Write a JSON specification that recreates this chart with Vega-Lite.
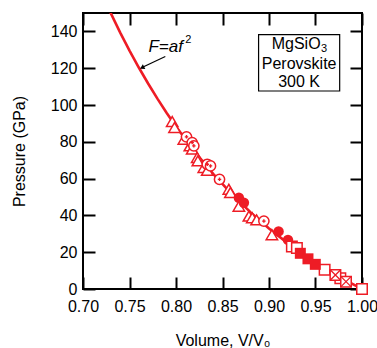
{
  "$schema": "https://vega.github.io/schema/vega-lite/v6.json",
  "width": 279,
  "height": 276,
  "autosize": "none",
  "padding": {"left": 83, "top": 13, "right": 15, "bottom": 59},
  "background": "white",
  "config": {
    "view": {"stroke": "black", "strokeWidth": 2},
    "font": "Liberation Sans"
  },
  "datasets": {
    "curve": [
      {"V": 0.729, "P": 150.8}, {"V": 0.74, "P": 139.35}, {"V": 0.75, "P": 129.59},
      {"V": 0.76, "P": 120.38}, {"V": 0.77, "P": 111.67}, {"V": 0.78, "P": 103.44},
      {"V": 0.79, "P": 95.65}, {"V": 0.80, "P": 88.29}, {"V": 0.82, "P": 74.73},
      {"V": 0.84, "P": 62.55}, {"V": 0.86, "P": 51.62}, {"V": 0.88, "P": 41.78},
      {"V": 0.90, "P": 32.92}, {"V": 0.92, "P": 24.93}, {"V": 0.94, "P": 17.72},
      {"V": 0.96, "P": 11.21}, {"V": 0.98, "P": 5.32}, {"V": 1.00, "P": 0}
    ],
    "pts": [
      {"V": 0.7959, "P": 91.0, "type": "tri"},
      {"V": 0.7984, "P": 87.8, "type": "tri"},
      {"V": 0.8084, "P": 81.4, "type": "tri"},
      {"V": 0.8149, "P": 77.8, "type": "tri"},
      {"V": 0.8174, "P": 76.0, "type": "tri"},
      {"V": 0.8228, "P": 71.5, "type": "tri"},
      {"V": 0.8235, "P": 69.6, "type": "tri"},
      {"V": 0.8299, "P": 66.0, "type": "tri"},
      {"V": 0.8336, "P": 64.5, "type": "tri"},
      {"V": 0.8568, "P": 54.2, "type": "tri"},
      {"V": 0.8585, "P": 52.4, "type": "tri"},
      {"V": 0.8676, "P": 45.0, "type": "tri"},
      {"V": 0.8784, "P": 39.6, "type": "tri"},
      {"V": 0.8820, "P": 38.7, "type": "tri"},
      {"V": 0.8867, "P": 37.6, "type": "tri"},
      {"V": 0.9031, "P": 29.5, "type": "tri"},
      {"V": 0.8113, "P": 82.7, "type": "circ"},
      {"V": 0.8174, "P": 79.6, "type": "circ"},
      {"V": 0.8192, "P": 77.8, "type": "circ"},
      {"V": 0.8336, "P": 67.8, "type": "circ"},
      {"V": 0.8371, "P": 66.9, "type": "circ"},
      {"V": 0.8468, "P": 59.6, "type": "circ"},
      {"V": 0.8945, "P": 36.9, "type": "circ"},
      {"V": 0.8676, "P": 49.6, "type": "fcirc"},
      {"V": 0.8730, "P": 46.9, "type": "fcirc"},
      {"V": 0.9103, "P": 31.3, "type": "fcirc"},
      {"V": 0.9204, "P": 26.7, "type": "fcirc"},
      {"V": 0.9246, "P": 23.1, "type": "osq"},
      {"V": 0.9300, "P": 22.3, "type": "osq"},
      {"V": 0.9598, "P": 10.4, "type": "osq"},
      {"V": 0.9767, "P": 5.8, "type": "osq"},
      {"V": 1.0, "P": 0.0, "type": "osq"},
      {"V": 0.9337, "P": 19.4, "type": "fsq"},
      {"V": 0.9419, "P": 16.4, "type": "fsq"},
      {"V": 0.9498, "P": 13.4, "type": "fsq"},
      {"V": 0.9714, "P": 7.6, "type": "xsq"},
      {"V": 0.9828, "P": 4.0, "type": "xsq"}
    ]
  },
  "layer": [
    {
      "data": {"name": "curve"},
      "mark": {"type": "line", "color": "#ee1c25", "strokeWidth": 2.6, "clip": true},
      "encoding": {
        "x": {"field": "V", "type": "quantitative",
          "scale": {"domain": [0.7, 1.0], "nice": false, "zero": false},
          "axis": {"orient": "bottom", "values": [0.7, 0.75, 0.8, 0.85, 0.9, 0.95, 1.0], "format": ".2f",
            "tickSize": -12, "tickWidth": 2, "tickColor": "black", "domain": false, "grid": false,
            "labelFont": "Liberation Sans", "labelFontSize": 16, "labelColor": "black", "labelPadding": 21,
            "labelFlush": false, "labelOverlap": false,
            "title": "Volume, V/V₀", "titleFont": "Liberation Sans", "titleFontSize": 16, "titleFontWeight": "normal",
            "titleColor": "black", "titlePadding": 18}},
        "y": {"field": "P", "type": "quantitative",
          "scale": {"domain": [0, 150], "nice": false},
          "axis": {"orient": "left", "values": [0, 20, 40, 60, 80, 100, 120, 140],
            "tickSize": -12, "tickWidth": 2, "tickColor": "black", "domain": false, "grid": false,
            "labelFont": "Liberation Sans", "labelFontSize": 16, "labelColor": "black", "labelPadding": 18,
            "labelFlush": false, "labelOverlap": false,
            "title": "Pressure (GPa)", "titleFont": "Liberation Sans", "titleFontSize": 16, "titleFontWeight": "normal",
            "titleColor": "black", "titlePadding": 23}}
      }
    },
    {
      "data": {"name": "curve"},
      "mark": {"type": "line", "opacity": 0, "clip": true},
      "encoding": {
        "x": {"field": "V", "type": "quantitative",
          "axis": {"orient": "top", "values": [0.7, 0.75, 0.8, 0.85, 0.9, 0.95, 1.0], "labels": false,
            "tickSize": -12, "tickWidth": 2, "tickColor": "black", "domain": false, "grid": false, "title": null}},
        "y": {"field": "P", "type": "quantitative",
          "axis": {"orient": "right", "values": [0, 20, 40, 60, 80, 100, 120, 140], "labels": false,
            "tickSize": -12, "tickWidth": 2, "tickColor": "black", "domain": false, "grid": false, "title": null}}
      }
    },
    {
      "data": {"name": "pts"},
      "transform": [{"filter": "datum.type == 'tri'"}],
      "mark": {"type": "point", "shape": "triangle-up", "filled": true, "fill": "white", "stroke": "#ee1c25", "strokeWidth": 1.5, "size": 130, "opacity": 1},
      "encoding": {
        "x": {"field": "V", "type": "quantitative", "axis": null},
        "y": {"field": "P", "type": "quantitative", "axis": null}
      }
    },
    {
      "data": {"name": "pts"},
      "transform": [{"filter": "datum.type == 'circ'"}],
      "mark": {"type": "point", "shape": "circle", "filled": true, "fill": "white", "stroke": "#ee1c25", "strokeWidth": 1.5, "size": 105, "opacity": 1},
      "encoding": {
        "x": {"field": "V", "type": "quantitative", "axis": null},
        "y": {"field": "P", "type": "quantitative", "axis": null}
      }
    },
    {
      "data": {"name": "pts"},
      "transform": [{"filter": "datum.type == 'circ'"}],
      "mark": {"type": "point", "shape": "cross", "filled": true, "color": "#ee1c25", "size": 12, "opacity": 1},
      "encoding": {
        "x": {"field": "V", "type": "quantitative", "axis": null},
        "y": {"field": "P", "type": "quantitative", "axis": null}
      }
    },
    {
      "data": {"name": "pts"},
      "transform": [{"filter": "datum.type == 'fcirc'"}],
      "mark": {"type": "point", "shape": "circle", "filled": true, "color": "#ee1c25", "size": 110, "opacity": 1},
      "encoding": {
        "x": {"field": "V", "type": "quantitative", "axis": null},
        "y": {"field": "P", "type": "quantitative", "axis": null}
      }
    },
    {
      "data": {"name": "pts"},
      "transform": [{"filter": "datum.type == 'osq' || datum.type == 'xsq'"}],
      "mark": {"type": "point", "shape": "square", "filled": true, "fill": "white", "stroke": "#ee1c25", "strokeWidth": 1.5, "size": 110, "opacity": 1, "clip": false},
      "encoding": {
        "x": {"field": "V", "type": "quantitative", "axis": null},
        "y": {"field": "P", "type": "quantitative", "axis": null}
      }
    },
    {
      "data": {"name": "pts"},
      "transform": [{"filter": "datum.type == 'xsq'"}],
      "mark": {"type": "point", "shape": "M-1,-1L1,1M1,-1L-1,1", "filled": false, "stroke": "#ee1c25", "strokeWidth": 1.3, "size": 110, "opacity": 1},
      "encoding": {
        "x": {"field": "V", "type": "quantitative", "axis": null},
        "y": {"field": "P", "type": "quantitative", "axis": null}
      }
    },
    {
      "data": {"name": "pts"},
      "transform": [{"filter": "datum.type == 'fsq'"}],
      "mark": {"type": "point", "shape": "square", "filled": true, "color": "#ee1c25", "size": 121, "opacity": 1},
      "encoding": {
        "x": {"field": "V", "type": "quantitative", "axis": null},
        "y": {"field": "P", "type": "quantitative", "axis": null}
      }
    },
    {
      "data": {"values": [{"x1": 0.8888, "x2": 0.9760, "y1": 107.6, "y2": 138.2}]},
      "mark": {"type": "rect", "fill": "white", "stroke": "black", "strokeWidth": 1.2},
      "encoding": {
        "x": {"field": "x1", "type": "quantitative", "axis": null},
        "x2": {"field": "x2"},
        "y": {"field": "y1", "type": "quantitative", "axis": null},
        "y2": {"field": "y2"}
      }
    },
    {
      "data": {"values": [
        {"x": 0.9324, "y": 122.4, "t": "Perovskite"},
        {"x": 0.9324, "y": 112.3, "t": "300 K"}
      ]},
      "mark": {"type": "text", "font": "Liberation Sans", "fontSize": 16, "color": "black", "align": "center", "baseline": "middle"},
      "encoding": {
        "x": {"field": "x", "type": "quantitative", "axis": null},
        "y": {"field": "y", "type": "quantitative", "axis": null},
        "text": {"field": "t"}
      }
    },
    {
      "data": {"values": [{"x": 0.9555, "y": 133.3, "t": "MgSiO"}]},
      "mark": {"type": "text", "font": "Liberation Sans", "fontSize": 16, "color": "black", "align": "right", "baseline": "middle"},
      "encoding": {
        "x": {"field": "x", "type": "quantitative", "axis": null},
        "y": {"field": "y", "type": "quantitative", "axis": null},
        "text": {"field": "t"}
      }
    },
    {
      "data": {"values": [{"x": 0.9558, "y": 130.6, "t": "3"}]},
      "mark": {"type": "text", "font": "Liberation Sans", "fontSize": 11, "color": "black", "align": "left", "baseline": "middle"},
      "encoding": {
        "x": {"field": "x", "type": "quantitative", "axis": null},
        "y": {"field": "y", "type": "quantitative", "axis": null},
        "text": {"field": "t"}
      }
    },
    {
      "data": {"values": [{"x": 0.7704, "y": 131.6, "t": "F=af"}]},
      "mark": {"type": "text", "font": "Liberation Sans", "fontSize": 17, "fontStyle": "italic", "color": "black", "align": "left", "baseline": "middle"},
      "encoding": {
        "x": {"field": "x", "type": "quantitative", "axis": null},
        "y": {"field": "y", "type": "quantitative", "axis": null},
        "text": {"field": "t"}
      }
    },
    {
      "data": {"values": [{"x": 0.8100, "y": 135.4, "t": "2"}]},
      "mark": {"type": "text", "font": "Liberation Sans", "fontSize": 11, "color": "black", "align": "left", "baseline": "middle"},
      "encoding": {
        "x": {"field": "x", "type": "quantitative", "axis": null},
        "y": {"field": "y", "type": "quantitative", "axis": null},
        "text": {"field": "t"}
      }
    },
    {
      "data": {"values": [{"x1": 0.7885, "y1": 126.4, "x2": 0.7640, "y2": 120.5}]},
      "mark": {"type": "rule", "color": "black", "strokeWidth": 1.2},
      "encoding": {
        "x": {"field": "x1", "type": "quantitative", "axis": null},
        "y": {"field": "y1", "type": "quantitative", "axis": null},
        "x2": {"field": "x2"},
        "y2": {"field": "y2"}
      }
    },
    {
      "data": {"values": [{"x": 0.7635, "y": 120.3}]},
      "mark": {"type": "point", "shape": "triangle-up", "filled": true, "color": "black", "size": 28, "angle": 242, "opacity": 1},
      "encoding": {
        "x": {"field": "x", "type": "quantitative", "axis": null},
        "y": {"field": "y", "type": "quantitative", "axis": null}
      }
    }
  ],
  "resolve": {"axis": {"x": "independent", "y": "independent"}}
}
